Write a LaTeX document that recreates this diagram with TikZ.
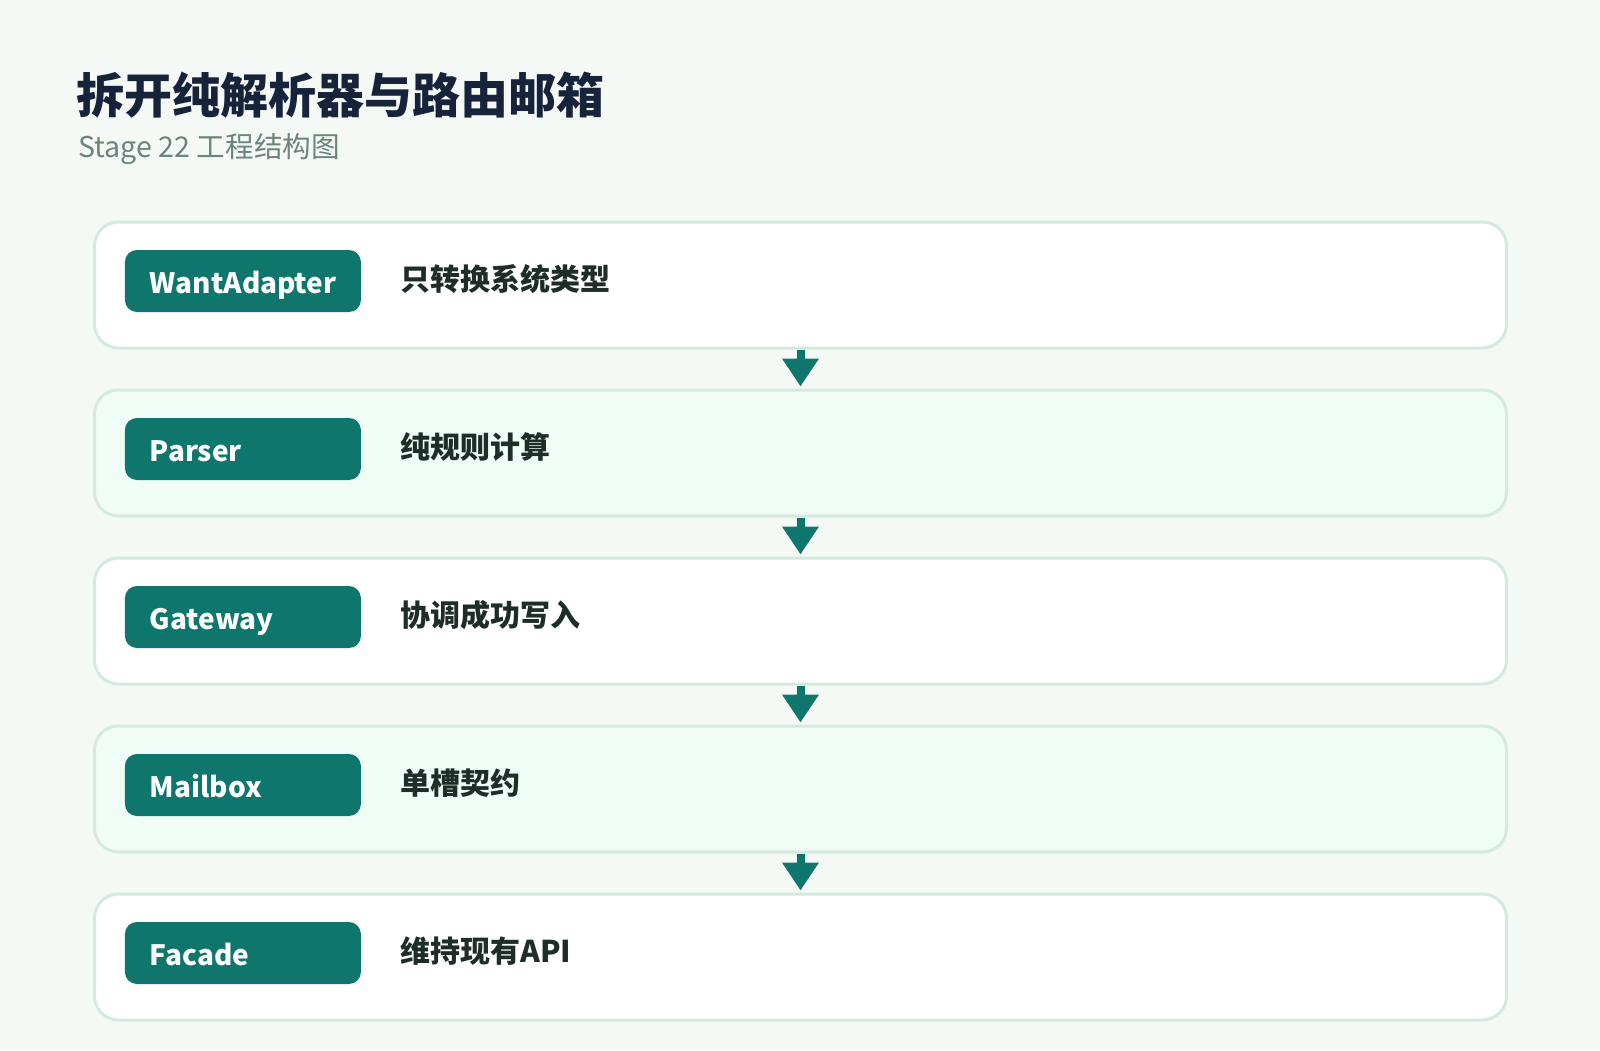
\documentclass[tikz,border=0pt]{standalone}
\usepackage{fontspec}
\setmainfont{Noto Sans CJK SC}
\usetikzlibrary{arrows.meta}
\definecolor{bgpage}{HTML}{F4F9F6}
\definecolor{rowline}{HTML}{D3EADF}
\definecolor{rowmint}{HTML}{F0FDF6}
\definecolor{stageteal}{HTML}{0F766E}
\definecolor{titleink}{HTML}{16233A}
\definecolor{subink}{HTML}{6B8578}
\definecolor{textink}{HTML}{1F2D28}
\begin{document}
\begin{tikzpicture}[x=0.5pt,y=-0.5pt,
  rowbox/.style={draw=rowline,line width=1.5pt,rounded corners=12pt,
    minimum width=706pt,minimum height=63pt,inner sep=0pt},
  badge/.style={fill=stageteal,rounded corners=6pt,text=white,
    font=\fontsize{14}{16}\selectfont\bfseries,text width=93pt,align=left,
    text height=13pt,text depth=1pt,
    inner xsep=12.5pt,inner ysep=0pt,minimum height=31pt,anchor=west},
  desc/.style={anchor=west,inner sep=0pt,text=textink,
    font=\fontsize{15}{18}\selectfont\bfseries},
  flow/.style={draw=stageteal,line width=4pt,
    -{Triangle[width=17.5pt,length=14pt]},shorten >=1pt}]
\fill[bgpage] (0,0) rectangle (1600,1050);
\useasboundingbox (0,0) rectangle (1600,1050);
% title
\node[anchor=west,inner sep=0pt,text=titleink,font=\fontsize{24}{28}\selectfont\bfseries]
  (title) at (76,95) {拆开纯解析器与路由邮箱};
\node[anchor=west,inner sep=0pt,text=subink,font=\fontsize{14.3}{17}\selectfont]
  (subtitle) at (78,149) {Stage 22 工程结构图};
% rows
\node[rowbox,fill=white] (r1) at (800.5,285) {};
\node[badge] (b1) at (124.5,281) {WantAdapter};
\node[desc] (d1) at (400,279) {只转换系统类型};
\node[rowbox,fill=rowmint] (r2) at (800.5,453) {};
\node[badge] (b2) at (124.5,449) {Parser};
\node[desc] (d2) at (400,447) {纯规则计算};
\node[rowbox,fill=white] (r3) at (800.5,621) {};
\node[badge] (b3) at (124.5,617) {Gateway};
\node[desc] (d3) at (400,615) {协调成功写入};
\node[rowbox,fill=rowmint] (r4) at (800.5,789) {};
\node[badge] (b4) at (124.5,785) {Mailbox};
\node[desc] (d4) at (400,783) {单槽契约};
\node[rowbox,fill=white] (r5) at (800.5,957) {};
\node[badge] (b5) at (124.5,953) {Facade};
\node[desc] (d5) at (400,951) {维持现有API};
% arrows
\draw[flow] (r1.south) -- (r2.north);
\draw[flow] (r2.south) -- (r3.north);
\draw[flow] (r3.south) -- (r4.north);
\draw[flow] (r4.south) -- (r5.north);
\end{tikzpicture}
\end{document}
